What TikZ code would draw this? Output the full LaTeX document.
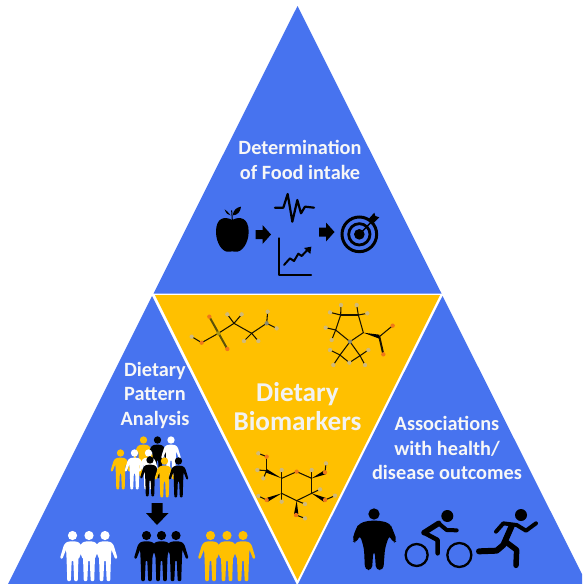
\documentclass[tikz,border=0pt]{standalone}
\usepackage{fontspec}
\setmainfont{Carlito}
\usetikzlibrary{arrows.meta}
\definecolor{tblue}{HTML}{4773EF}
\definecolor{tyellow}{HTML}{FFC000}
\definecolor{atomO}{HTML}{F07818}
\definecolor{atomS}{HTML}{A89410}
\definecolor{atomH}{HTML}{D2BA78}
\definecolor{atomN}{HTML}{8A8A70}
\tikzset{
  panel/.style={fill=tblue,draw=none},
  centerpanel/.style={fill=tyellow,draw=none},
  label/.style={text=white!97!black,font=\bfseries\fontsize{20.3}{24.5}\selectfont,align=center,inner sep=0pt},
  biglabel/.style={text=white!95!black,font=\bfseries\fontsize{27.2}{29}\selectfont,align=center,inner sep=0pt},
  bond/.style={draw=black!90!tyellow,line width=1.05pt,line cap=round},
  wedge/.style={fill=black,draw=none},
  iconline/.style={draw=black,line cap=round,line join=round},
}
\newcommand{\personfig}[4]{%
  \begin{scope}[shift={(#1,#2)},scale=#3]
    \fill[#4] (0,0) circle (4.6);
    \fill[#4,rounded corners=1pt] (-1.8,5.8) -- (1.8,5.8) -- (6,6.6) -- (8.6,9.5) -- (12.5,22.5) -- (10.2,23.6) -- (6.4,14) -- (5.9,24) -- (5.2,45.6) -- (1.7,45.6) -- (0.8,25) -- (-0.8,25) -- (-1.7,45.6) -- (-5.2,45.6) -- (-5.9,24) -- (-6.4,14) -- (-10.2,23.6) -- (-12.5,22.5) -- (-8.6,9.5) -- (-6,6.6) -- cycle;
  \end{scope}}
\newcommand{\blockarrowright}[2]{%
  \fill[black] (#1,#2-4.5) -- (#1+7,#2-4.5) -- (#1+7,#2-9.5) -- (#1+15.5,#2) -- (#1+7,#2+9.5) -- (#1+7,#2+4.5) -- (#1,#2+4.5) -- cycle;}
\newcommand{\atomdot}[3]{\fill[#3] (#1,#2) circle (6.5);}
\begin{document}
\begin{tikzpicture}[x=1pt,y=-1pt]
\useasboundingbox (0,0) rectangle (582,584);
\clip (0,0) rectangle (582,584);
\fill[white] (0,0) rectangle (582,584);
% panels
\fill[panel] (297.5,6) -- (441.5,293.5) -- (153.5,293.5) -- cycle;
\fill[panel] (152,296) -- (296.5,584) -- (8,584) -- cycle;
\fill[panel] (442.5,296) -- (587,584) -- (298,584) -- cycle;
\fill[centerpanel] (155,295) -- (440,295) -- (297.5,580) -- cycle;
% labels
\node[label] (t1) at (300,160) {Determination\\of Food intake};
\node[label] (t2) at (155,395) {Dietary\\Pattern\\Analysis};
\node[label] (t3) at (447,448) {Associations\\with health/\\disease outcomes};
\node[biglabel] (t4) at (297.5,407) {Dietary\\Biomarkers};
% apple and others
\begin{scope}[shift={(190,130)},scale=1/3]
  \fill[black] (127,270) .. controls (105,258) and (78,262) .. (78,305) .. controls (78,340) and (98,367) .. (115,365) .. controls (122,364) and (132,364) .. (138,365) .. controls (155,367) and (176,340) .. (176,305) .. controls (176,262) and (148,258) .. (127,270) -- cycle;
  \draw[iconline,line width=1pt] (127,270) -- (125,242);
  \fill[black] (128,256) .. controls (130,240) and (140,232) .. (153,230) .. controls (152,245) and (142,256) .. (128,256) -- cycle;
  \fill[black] (122,256) .. controls (116,248) and (110,242) .. (104,238) .. controls (108,250) and (114,256) .. (122,256) -- cycle;
  % ecg
  \draw[iconline,line width=2.2pt] (255,233) -- (280,233) -- (293,192) -- (307,275) -- (322,210) -- (333,250) -- (345,230) -- (372,233);
  % chart
  \draw[iconline,line width=2.3pt] (267,325) -- (267,435) -- (363,435);
  \draw[iconline,line width=2pt] (282,405) -- (300,385) -- (312,393) -- (325,371) -- (335,378) -- (352,360);
  \fill[black] (364,350) -- (361,372) -- (342,354) -- cycle;
  % target
  \draw[black,line width=3pt] (508,313) circle (52);
  \draw[black,line width=2.8pt] (508,313) circle (32);
  \fill[black] (508,313) circle (16);
  \draw[iconline,line width=1.4pt] (508,313) -- (552,268);
  \fill[black] (535,268) -- (553,248) -- (556,258) -- (568,262) -- (548,282) -- cycle;
\end{scope}
\blockarrowright{255.5}{234.5}
\blockarrowright{319}{232}
% molecules 1 and 2
\begin{scope}[shift={(170,295)},scale=1/3]
  \draw[bond,line width=2pt,draw=atomS!55!black] (118,65) -- (172,162);
  \foreach \a/\b/\c/\d in {65/125/95/143,95/143/145/115,145/115/192/85,192/85/245/115,245/115/290/85,290/85/320/100,290/85/293/50,192/85/172/58,192/85/215/58,245/115/222/138,245/115/265/138,
     540/140/497/105,497/105/512/60,512/60/565/60,565/60/580/113,580/113/540/140,497/105/467/98,497/105/485/135,512/60/480/52,512/60/513/30,565/60/560/30,565/60/592/55,540/140/510/180,540/140/570/182,510/180/538/203,570/182/538/203,510/180/480/165,510/180/490/210,570/182/595/165,570/182/585/210,628/125/668/92}
    {\draw[bond] (\a,\b) -- (\c,\d);}
  \draw[bond,line width=2pt] (628,125) -- (640,178);
  \fill[wedge] (580,113) -- (628,119) -- (628,131) -- cycle;
  \foreach \x/\y in {118/65,172/162,95/143,640/178,668/92}{\atomdot{\x}{\y}{atomO}}
  \atomdot{145}{115}{atomS}
  \foreach \x/\y in {65/125,320/100,293/50,172/58,215/58,222/138,265/138,467/98,485/135,480/52,513/30,560/30,592/55,480/165,490/210,595/165,585/210,538/203}{\atomdot{\x}{\y}{atomH}}
  \atomdot{290}{85}{atomN}
  \atomdot{540}{140}{atomN}
\end{scope}
% molecule 3
\begin{scope}[shift={(230,440)},scale=1/3]
  \foreach \a/\b/\c/\d in {155/115/200/95,200/95/245/115,245/115/245/160,245/160/200/182,200/182/155/160,155/160/155/115,110/92/110/50,110/50/85/40,110/92/82/90,110/92/100/115,285/97/288/70,285/180/315/167,245/160/270/148,198/225/225/235,110/180/85/168,155/115/155/90,155/160/155/185,245/115/245/90,200/182/225/192}
    {\draw[bond] (\a,\b) -- (\c,\d);}
  \fill[wedge] (155,115) -- (110,87) -- (106,97) -- cycle;
  \fill[wedge] (245,115) -- (283,91) -- (287,103) -- cycle;
  \fill[wedge] (245,160) -- (288,174) -- (282,186) -- cycle;
  \fill[wedge] (200,182) -- (205,222) -- (192,222) -- cycle;
  \fill[wedge] (155,160) -- (112,173) -- (112,186) -- cycle;
  \foreach \x/\y in {200/95,110/50,285/97,285/180,198/225,110/180}{\atomdot{\x}{\y}{atomO}}
  \foreach \x/\y in {85/40,82/90,100/115,288/70,315/167,270/148,225/235,85/168,155/90,155/185,245/90,225/192}{\atomdot{\x}{\y}{atomH}}
\end{scope}
% crowd
\personfig{143.5}{440}{.8}{tyellow}
\personfig{157.5}{440}{.8}{black}
\personfig{171}{440}{.8}{white}
\personfig{120.5}{453}{.8}{tyellow}
\personfig{134.5}{453}{.8}{white}
\personfig{148.5}{453}{.8}{white}
\personfig{150}{460}{.8}{black}
\personfig{164.5}{461}{.8}{tyellow}
\personfig{178.5}{461}{.8}{black}
% down arrow
\fill[black] (151.5,503) -- (162.5,503) -- (162.5,513) -- (168.5,513) -- (157,525) -- (146,513) -- (151.5,513) -- cycle;
% result groups
\personfig{72.5}{535.5}{1}{white}
\personfig{105}{535.5}{1}{white}
\personfig{89}{535.5}{1}{white}
\personfig{146.5}{535.5}{1}{black}
\personfig{176}{535.5}{1}{black}
\personfig{161.5}{535.5}{1}{black}
\personfig{210.5}{535.5}{1}{tyellow}
\personfig{243}{535.5}{1}{tyellow}
\personfig{227}{535.5}{1}{tyellow}
% health icons
\begin{scope}[shift={(340,490)},scale=1/3]
  \fill[black] (102,72) circle (17);
  \fill[black,rounded corners=4pt] (85,92) -- (120,92) -- (150,100) -- (158,118) -- (171,152) -- (160,160) -- (148,135) -- (135,175) -- (130,240) -- (108,240) -- (104,182) -- (100,182) -- (96,240) -- (75,240) -- (72,175) -- (60,135) -- (48,160) -- (36,152) -- (48,115) -- (58,100) -- cycle;
  \draw[black,line width=2.3pt] (230,195) circle (33);
  \draw[black,line width=2.3pt] (358,195) circle (36);
  \fill[black] (322,78) circle (18);
  \draw[iconline,line width=5.5pt] (252,128) -- (296,100);
  \draw[iconline,line width=4pt] (296,100) -- (320,120) -- (350,121);
  \draw[iconline,line width=4.5pt] (252,128) -- (293,150) -- (293,190);
  \fill[black] (543,75) circle (18);
  \draw[iconline,line width=4pt] (468,125) -- (490,100) -- (530,105) -- (558,122) -- (588,100);
  \draw[iconline,line width=6pt] (515,108) -- (490,165) -- (470,182) -- (417,184);
  \draw[iconline,line width=5.5pt] (497,155) -- (530,180) -- (528,226);
\end{scope}
\end{tikzpicture}
\end{document}
